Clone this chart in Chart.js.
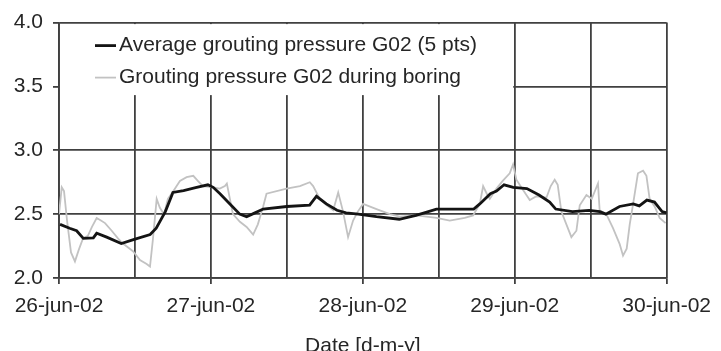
<!DOCTYPE html>
<html lang="en">
<head>
  <meta charset="UTF-8">
  <title>Grouting pressure G02</title>
  <script src="https://cdn.jsdelivr.net/npm/chart.js"></script>
  <style>
    body { margin: 0; background: #fff; }
  </style>
</head>
<body>
  <canvas id="pressureChart" width="721" height="351"></canvas>

  <script>
    // tick labels (one per day, x = days since 26-jun-02)
    const dayLabels = ['26-jun-02', '27-jun-02', '28-jun-02', '29-jun-02', '30-jun-02'];

    // average grouting pressure G02 (5 pts)
    const avgDays = [0.007, 0.07, 0.116, 0.16, 0.226, 0.248, 0.314, 0.41, 0.49, 0.60, 0.64, 0.70, 0.75, 0.82, 0.906, 0.98,
      1.015, 1.06, 1.125, 1.19, 1.235, 1.29, 1.344, 1.50, 1.65, 1.695, 1.76, 1.83, 1.89, 1.97,
      2.09, 2.24, 2.35, 2.485, 2.73, 2.77, 2.84, 2.88, 2.93, 2.99,
      3.08, 3.16, 3.23, 3.27, 3.38, 3.49, 3.56, 3.60, 3.69, 3.78, 3.82, 3.87, 3.92, 3.97, 4.0];
    const avgPressure = [2.42, 2.39, 2.37, 2.31, 2.315, 2.35, 2.32, 2.27, 2.30, 2.34, 2.39, 2.52, 2.67, 2.685, 2.71, 2.73,
      2.71, 2.66, 2.58, 2.50, 2.48, 2.51, 2.54, 2.56, 2.57, 2.64, 2.58, 2.53, 2.51, 2.50,
      2.48, 2.46, 2.49, 2.54, 2.54, 2.58, 2.66, 2.68, 2.73, 2.71,
      2.70, 2.65, 2.595, 2.54, 2.52, 2.53, 2.52, 2.50, 2.56, 2.58, 2.565, 2.61, 2.595, 2.52, 2.51];

    // grouting pressure G02 during boring
    const rawDays = [0.0, 0.018, 0.033, 0.053, 0.079, 0.105, 0.13, 0.158, 0.19, 0.217, 0.248, 0.276, 0.303, 0.347, 0.388,
      0.421, 0.487, 0.533, 0.577, 0.599, 0.618, 0.643, 0.664, 0.691, 0.717, 0.752, 0.796, 0.840, 0.884, 0.914, 0.947,
      1.013, 1.059, 1.092, 1.105, 1.125, 1.145, 1.191, 1.235, 1.278, 1.309, 1.344, 1.366, 1.498, 1.586, 1.651, 1.673,
      1.717, 1.763, 1.805, 1.838, 1.870, 1.903, 1.936, 1.967, 2.002, 2.09, 2.178, 2.243, 2.353, 2.485, 2.572, 2.671,
      2.726, 2.77, 2.792, 2.816, 2.836, 2.88, 2.921, 2.967, 2.989, 3.011, 3.055, 3.099, 3.143, 3.209, 3.237, 3.263,
      3.283, 3.307, 3.34, 3.373, 3.406, 3.428, 3.472, 3.507, 3.548, 3.559, 3.603, 3.647, 3.691, 3.713, 3.737, 3.757,
      3.778, 3.811, 3.845, 3.867, 3.888, 3.921, 3.954, 3.993];
    const rawPressure = [2.50, 2.71, 2.68, 2.45, 2.20, 2.13, 2.22, 2.31, 2.33, 2.40, 2.47, 2.45, 2.43, 2.37, 2.31,
      2.27, 2.21, 2.14, 2.11, 2.09, 2.30, 2.62, 2.55, 2.50, 2.62, 2.68, 2.76, 2.79, 2.80, 2.76, 2.72,
      2.71, 2.70, 2.72, 2.74, 2.62, 2.50, 2.44, 2.40, 2.34, 2.42, 2.56, 2.66, 2.70, 2.72, 2.75, 2.72,
      2.62, 2.57, 2.53, 2.67, 2.52, 2.32, 2.45, 2.52, 2.58, 2.54, 2.50, 2.48, 2.49, 2.47, 2.45, 2.47,
      2.49, 2.58, 2.72, 2.66, 2.62, 2.70, 2.76, 2.82, 2.89, 2.77, 2.69, 2.61, 2.64, 2.63, 2.72, 2.77,
      2.73, 2.52, 2.42, 2.32, 2.37, 2.57, 2.65, 2.62, 2.74, 2.53, 2.50, 2.39, 2.265, 2.175, 2.23, 2.42,
      2.57, 2.82, 2.84, 2.80, 2.62, 2.56, 2.47, 2.43];

    const toPoints = (xs, ys) => xs.map((x, i) => ({ x: x, y: ys[i] }));

    const gridColor = '#404040';
    const textColor = '#262626';
    Chart.defaults.font.family = "'Liberation Sans', Arial, sans-serif";

    // legend drawn inside the plot, on a white box that hides the grid behind it
    const innerLegend = {
      id: 'innerLegend',
      beforeDatasetsDraw(chart) {
        const { ctx, chartArea, scales } = chart;
        const right = scales.x.getPixelForValue(3) - 1.5;
        ctx.save();
        ctx.fillStyle = '#fff';
        ctx.fillRect(chartArea.left + 1, chartArea.top + 1.5, right - chartArea.left - 1, 71);
        ctx.font = "21px 'Liberation Sans', Arial, sans-serif";
        ctx.textBaseline = 'middle';
        chart.data.datasets.forEach((ds, i) => {
          const y = chartArea.top + 23 + i * 32;
          ctx.strokeStyle = ds.borderColor;
          ctx.lineWidth = ds.borderWidth;
          ctx.beginPath();
          ctx.moveTo(chartArea.left + 36, y);
          ctx.lineTo(chartArea.left + 57, y);
          ctx.stroke();
          ctx.fillStyle = textColor;
          ctx.fillText(ds.label, chartArea.left + 60, y);
        });
        ctx.restore();
      }
    };

    const ctx = document.getElementById('pressureChart').getContext('2d');
    const pressureChart = new Chart(ctx, {
      type: 'line',
      data: {
        datasets: [
          {
            label: 'Average grouting pressure G02 (5 pts)',
            data: toPoints(avgDays, avgPressure),
            borderColor: '#141414',
            borderWidth: 2.8,
            pointRadius: 0,
            tension: 0
          },
          {
            label: 'Grouting pressure G02 during boring',
            data: toPoints(rawDays, rawPressure),
            borderColor: '#c2c2c2',
            borderWidth: 1.8,
            pointRadius: 0,
            tension: 0
          }
        ]
      },
      options: {
        responsive: false,
        animation: false,
        layout: { padding: { left: 0, right: 54, top: 16, bottom: 0 } },
        plugins: {
          legend: { display: false },
          tooltip: { enabled: false }
        },
        scales: {
          x: {
            type: 'linear',
            min: 0,
            max: 4,
            afterFit: scale => { scale.height = 73; },
            ticks: {
              stepSize: 0.5,
              autoSkip: false,
              maxRotation: 0,
              padding: 10,
              color: textColor,
              font: { size: 21 },
              callback: v => Number.isInteger(v) ? dayLabels[v] : ''
            },
            grid: {
              color: gridColor,
              lineWidth: 1.8,
              tickLength: 6,
              tickColor: c => (c.tick && Number.isInteger(c.tick.value)) ? gridColor : 'rgba(0,0,0,0)'
            },
            border: { color: gridColor, width: 1.8 },
            title: {
              display: true,
              text: 'Date [d-m-y]',
              color: textColor,
              font: { size: 21, lineHeight: 1 },
              padding: { top: 0, bottom: -6 }
            }
          },
          y: {
            min: 2,
            max: 4,
            afterFit: scale => { scale.width = 59; },
            ticks: {
              stepSize: 0.5,
              padding: 10,
              color: textColor,
              font: { size: 21 },
              callback: v => v.toFixed(1)
            },
            grid: { color: gridColor, lineWidth: 1.8, tickLength: 6 },
            border: { color: gridColor, width: 1.8 }
          }
        }
      },
      plugins: [innerLegend]
    });
  </script>
</body>
</html>
